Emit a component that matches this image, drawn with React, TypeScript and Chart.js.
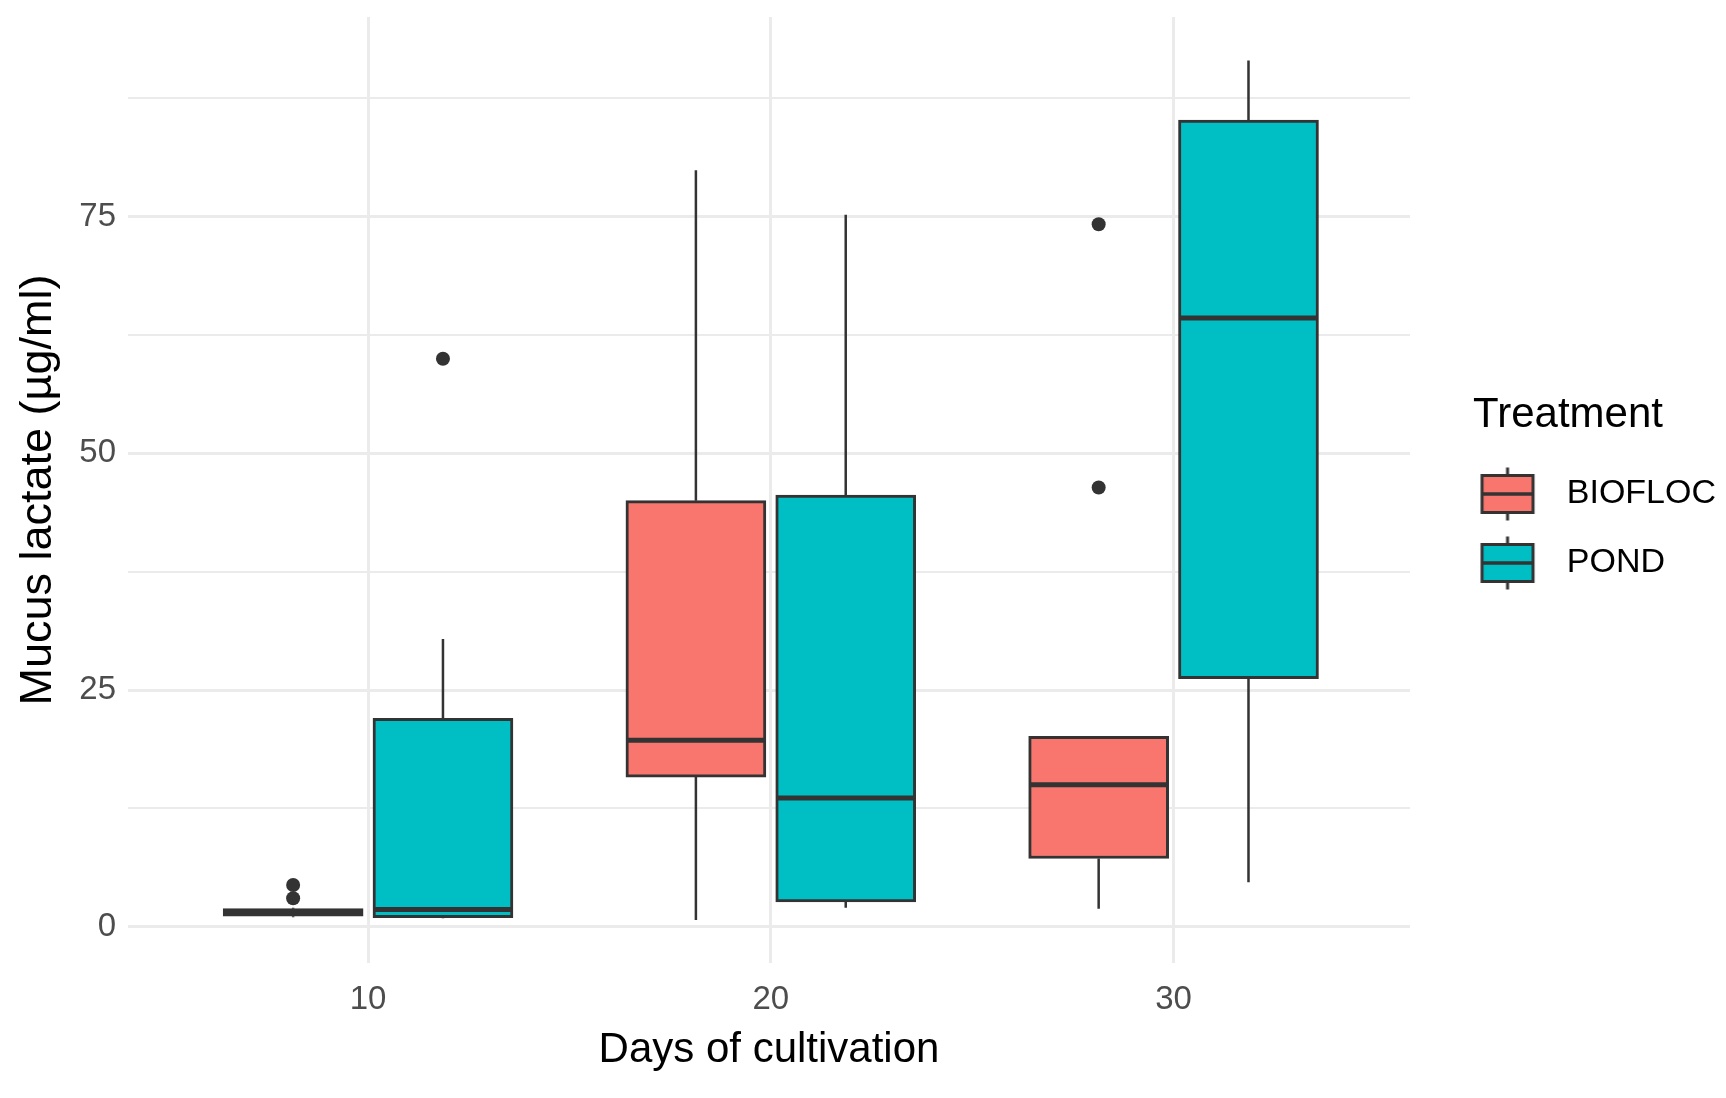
import React, { useEffect, useRef } from 'react';
import { Chart, registerables } from 'chart.js';

Chart.register(...registerables);

// ---- data ----
const days = [10, 20, 30];
const treatments = ['BIOFLOC', 'POND'];
const treatmentColors = ['#F8766D', '#00BFC4'];

const bioMin = [1.0, 0.7, 1.9];
const bioQ1 = [1.1, 15.8, 7.2];
const bioMedian = [1.5, 19.7, 15.0];
const bioQ3 = [1.9, 45.0, 20.1];
const bioMax = [2.0, 79.9, 20.1];
const bioOutlierDays = [10, 10, 30, 30];
const bioOutlierValues = [4.4, 3.0, 74.2, 46.4];

const pondMin = [0.9, 2.0, 4.7];
const pondQ1 = [0.95, 2.6, 26.2];
const pondMedian = [1.8, 13.6, 64.3];
const pondQ3 = [22.0, 45.6, 85.2];
const pondMax = [30.4, 75.2, 91.5];
const pondOutlierDays = [10];
const pondOutlierValues = [60.0];

const xTicks = [10, 20, 30];
const yTicks = [0, 12.5, 25, 37.5, 50, 62.5, 75, 87.5];
const yTickLabels = ['0', '', '25', '', '50', '', '75', ''];

// ---- layout / style constants ----
const DODGE = 1.86;
const HALF = 1.71;
const W = 1726;
const H = 1098;
const FONT = '"Liberation Sans", Arial, sans-serif';
const DARK = '#333333';

function whiskerPoints(centers: number[], mn: number[], q1: number[], q3: number[], mx: number[]) {
  const pts: any[] = [];
  centers.forEach((c, i) => {
    pts.push({ x: c, y: q3[i] }, { x: c, y: mx[i] }, { x: c, y: null });
    pts.push({ x: c, y: mn[i] }, { x: c, y: q1[i] }, { x: c, y: null });
  });
  return pts;
}

function medianPoints(centers: number[], med: number[]) {
  const pts: any[] = [];
  centers.forEach((c, i) => {
    pts.push({ x: c - HALF, y: med[i] }, { x: c + HALF, y: med[i] }, { x: c + HALF, y: null });
  });
  return pts;
}

function makeGlyph(color: string, ox: number) {
  const cv = document.createElement('canvas');
  cv.width = 100;
  cv.height = 60;
  const g = cv.getContext('2d')!;
  const cy = 30;
  const bw = 51;
  const bh = 37;
  const cx = ox + bw / 2;
  g.strokeStyle = DARK;
  g.lineWidth = 3;
  g.beginPath();
  g.moveTo(cx, cy - bh / 2 - 8);
  g.lineTo(cx, cy - bh / 2);
  g.moveTo(cx, cy + bh / 2);
  g.lineTo(cx, cy + bh / 2 + 8);
  g.stroke();
  g.fillStyle = color;
  g.fillRect(ox, cy - bh / 2, bw, bh);
  g.strokeRect(ox, cy - bh / 2, bw, bh);
  g.lineWidth = 3.5;
  g.beginPath();
  g.moveTo(ox, cy);
  g.lineTo(ox + bw, cy);
  g.stroke();
  return cv;
}

export default function App() {
  const ref = useRef<HTMLCanvasElement>(null);

  useEffect(() => {
    document.body.style.margin = '0';
    const canvas = ref.current;
    if (!canvas) return;

    const m = document.createElement('canvas').getContext('2d')!;
    m.font = `34px ${FONT}`;
    const tw = Math.max(m.measureText(treatments[0]).width, m.measureText(treatments[1]).width);
    const legendPad = 35;
    const plotRight = 1410;
    const P = W - plotRight - legendPad - 17 - 10 - tw;
    const ox = 1482 - (plotRight + legendPad + P / 2 - 50);
    const glyphs = treatmentColors.map((c) => makeGlyph(c, ox));

    const bioX = days.map((d) => d - DODGE);
    const pondX = days.map((d) => d + DODGE);

    const chart = new Chart(canvas, {
      type: 'bar',
      data: {
        datasets: [
          {
            type: 'scatter',
            label: 'outliers',
            data: [
              ...bioOutlierDays.map((d, i) => ({ x: d - DODGE, y: bioOutlierValues[i] })),
              ...pondOutlierDays.map((d, i) => ({ x: d + DODGE, y: pondOutlierValues[i] })),
            ],
            backgroundColor: DARK,
            borderColor: DARK,
            pointRadius: 7,
            pointBorderWidth: 0,
            order: 0,
          } as any,
          {
            type: 'line',
            label: 'medians',
            data: [...medianPoints(bioX, bioMedian), ...medianPoints(pondX, pondMedian)],
            borderColor: DARK,
            borderWidth: 5,
            borderCapStyle: 'butt',
            pointRadius: 0,
            spanGaps: false,
            order: 1,
          } as any,
          {
            type: 'bar',
            label: treatments[0],
            data: days.map((d, i) => ({ x: bioX[i], y: [bioQ1[i], bioQ3[i]] })),
            backgroundColor: treatmentColors[0],
            borderColor: DARK,
            borderWidth: 3,
            borderSkipped: false,
            barThickness: 140,
            grouped: false,
            order: 3,
          } as any,
          {
            type: 'bar',
            label: treatments[1],
            data: days.map((d, i) => ({ x: pondX[i], y: [pondQ1[i], pondQ3[i]] })),
            backgroundColor: treatmentColors[1],
            borderColor: DARK,
            borderWidth: 3,
            borderSkipped: false,
            barThickness: 140,
            grouped: false,
            order: 3,
          } as any,
          {
            type: 'line',
            label: 'whiskers BIOFLOC',
            data: whiskerPoints(bioX, bioMin, bioQ1, bioQ3, bioMax),
            borderColor: DARK,
            borderWidth: 2.5,
            borderCapStyle: 'butt',
            pointRadius: 0,
            spanGaps: false,
            order: 4,
          } as any,
          {
            type: 'line',
            label: 'whiskers POND',
            data: whiskerPoints(pondX, pondMin, pondQ1, pondQ3, pondMax),
            borderColor: DARK,
            borderWidth: 2.5,
            borderCapStyle: 'butt',
            pointRadius: 0,
            spanGaps: false,
            order: 4,
          } as any,
        ],
      },
      options: {
        animation: false,
        responsive: true,
        maintainAspectRatio: false,
        layout: { padding: { top: 17, left: 0, right: 0, bottom: 0 } },
        plugins: {
          tooltip: { enabled: false },
          legend: {
            position: 'right',
            align: 'start',
            onClick: () => {},
            title: {
              display: true,
              text: 'Treatment',
              color: '#000000',
              position: 'center',
              font: { family: FONT, size: 42, lineHeight: 1 },
              padding: { top: 377, bottom: 6 },
            },
            labels: {
              color: '#000000',
              font: { family: FONT, size: 34 },
              padding: legendPad,
              usePointStyle: true,
              pointStyleWidth: P,
              generateLabels: () =>
                treatments.map((t, i) => ({
                  text: t,
                  fillStyle: treatmentColors[i],
                  strokeStyle: DARK,
                  lineWidth: 0,
                  pointStyle: glyphs[i],
                  hidden: false,
                  datasetIndex: i + 2,
                  fontColor: '#000000',
                })) as any,
            },
          },
        },
        scales: {
          x: {
            type: 'linear',
            min: 4.04,
            max: 35.87,
            offset: false,
            border: { display: false },
            grid: { color: '#EBEBEB', lineWidth: 3, drawTicks: false, offset: false },
            afterBuildTicks: (s: any) => {
              s.ticks = xTicks.map((v) => ({ value: v }));
            },
            afterFit: (s: any) => {
              s.height = H - 963;
              s.paddingLeft = 0;
              s.paddingRight = 0;
            },
            ticks: {
              color: '#4D4D4D',
              font: { family: FONT, size: 33 },
              padding: 17,
              maxRotation: 0,
              callback: (v: any) => String(v),
            },
            title: {
              display: true,
              text: 'Days of cultivation',
              color: '#000000',
              font: { family: FONT, size: 42 },
              padding: { top: 0, bottom: 22 },
            },
          },
          y: {
            type: 'linear',
            min: -3.84,
            max: 96.1,
            border: { display: false },
            grid: {
              color: '#EBEBEB',
              lineWidth: (ctx: any) => (ctx.tick && ctx.tick.value % 25 === 0 ? 3 : 2),
              drawTicks: false,
            },
            afterBuildTicks: (s: any) => {
              s.ticks = yTicks.map((v) => ({ value: v }));
            },
            afterFit: (s: any) => {
              s.width = 128;
              s.paddingTop = 0;
              s.paddingBottom = 0;
            },
            ticks: {
              color: '#4D4D4D',
              font: { family: FONT, size: 33 },
              padding: 12,
              callback: (v: any, i: number) => yTickLabels[i] ?? '',
            },
            title: {
              display: true,
              text: 'Mucus lactate (µg/ml)',
              color: '#000000',
              font: { family: FONT, size: 45 },
              padding: { top: 12, bottom: 0 },
            },
          },
        },
      },
    } as any);

    return () => chart.destroy();
  }, []);

  return (
    <div style={{ width: W, height: H, position: 'relative' }}>
      <canvas ref={ref} />
    </div>
  );
}
